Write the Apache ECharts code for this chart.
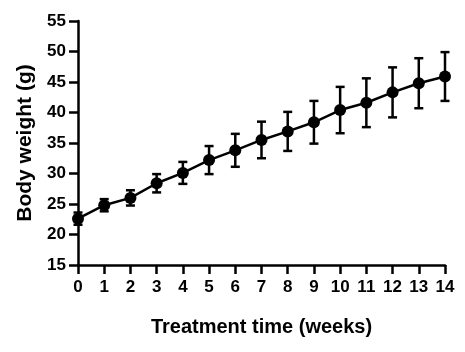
<!DOCTYPE html>
<html>
<head>
<meta charset="utf-8">
<script src="https://cdn.jsdelivr.net/npm/echarts@6/dist/echarts.min.js"></script>
<style>
  html, body { margin: 0; padding: 0; background: #fff; }
  #chart { width: 465px; height: 352px; }
</style>
</head>
<body>
<div id="chart"></div>
<script>
// weeks of treatment
const weeks = [0, 1, 2, 3, 4, 5, 6, 7, 8, 9, 10, 11, 12, 13, 14];
// mean body weight (g)
const meanWeight = [22.6, 24.8, 26.0, 28.4, 30.1, 32.2, 33.8, 35.5, 36.9, 38.4, 40.4, 41.6, 43.3, 44.8, 45.9];
// error (+/-) in g
const errWeight = [1.0, 1.0, 1.25, 1.5, 1.8, 2.3, 2.7, 3.0, 3.2, 3.5, 3.8, 4.0, 4.1, 4.1, 4.0];

const yTicks = { min: 15, max: 55, interval: 5 };
const xTicks = { min: 0, max: 14, interval: 1 };

const fontFamily = "'Liberation Sans', Arial, sans-serif";
const ink = "#000";

const chart = echarts.init(document.getElementById("chart"));

const lineData = weeks.map((w, i) => [w, meanWeight[i]]);
const errData = weeks.map((w, i) => [w, meanWeight[i] - errWeight[i], meanWeight[i] + errWeight[i]]);

const renderErrorBar = (params, api) => {
  const x = api.value(0);
  const lo = api.coord([x, api.value(1)]);
  const hi = api.coord([x, api.value(2)]);
  const half = 4.5;
  const style = { stroke: ink, lineWidth: 2.5 };
  return {
    type: "group",
    children: [
      { type: "line", shape: { x1: lo[0], y1: lo[1], x2: hi[0], y2: hi[1] }, style },
      { type: "line", shape: { x1: hi[0] - half, y1: hi[1], x2: hi[0] + half, y2: hi[1] }, style },
      { type: "line", shape: { x1: lo[0] - half, y1: lo[1], x2: lo[0] + half, y2: lo[1] }, style }
    ]
  };
};

chart.setOption({
  animation: false,
  grid: { left: 78, right: 20, top: 21, bottom: 87, containLabel: false },
  xAxis: {
    type: "value",
    min: xTicks.min,
    max: xTicks.max,
    interval: xTicks.interval,
    name: "Treatment time (weeks)",
    nameLocation: "middle",
    nameGap: 52,
    nameTextStyle: { color: ink, fontSize: 20, fontWeight: "bold", fontFamily },
    axisLine: { lineStyle: { color: ink, width: 2.5 } },
    axisTick: { show: true, length: 9, lineStyle: { color: ink, width: 2.5 } },
    axisLabel: { color: ink, fontSize: 17, fontWeight: "bold", fontFamily, margin: 14 },
    splitLine: { show: false }
  },
  yAxis: {
    type: "value",
    min: yTicks.min,
    max: yTicks.max,
    interval: yTicks.interval,
    name: "Body weight (g)",
    nameLocation: "middle",
    nameGap: 38,
    nameRotate: 90,
    nameTextStyle: { color: ink, fontSize: 21, fontWeight: "bold", fontFamily },
    axisLine: { show: true, lineStyle: { color: ink, width: 2.5 } },
    axisTick: { show: true, length: 9, lineStyle: { color: ink, width: 2.5 } },
    axisLabel: { color: ink, fontSize: 17, fontWeight: "bold", fontFamily, margin: 12 },
    splitLine: { show: false }
  },
  series: [
    {
      type: "custom",
      renderItem: renderErrorBar,
      data: errData,
      encode: { x: 0, y: [1, 2] },
      z: 2,
      silent: true
    },
    {
      type: "line",
      data: lineData,
      symbol: "circle",
      symbolSize: 12,
      lineStyle: { color: ink, width: 2.5 },
      itemStyle: { color: ink },
      z: 3,
      silent: true
    }
  ]
});
</script>
</body>
</html>
